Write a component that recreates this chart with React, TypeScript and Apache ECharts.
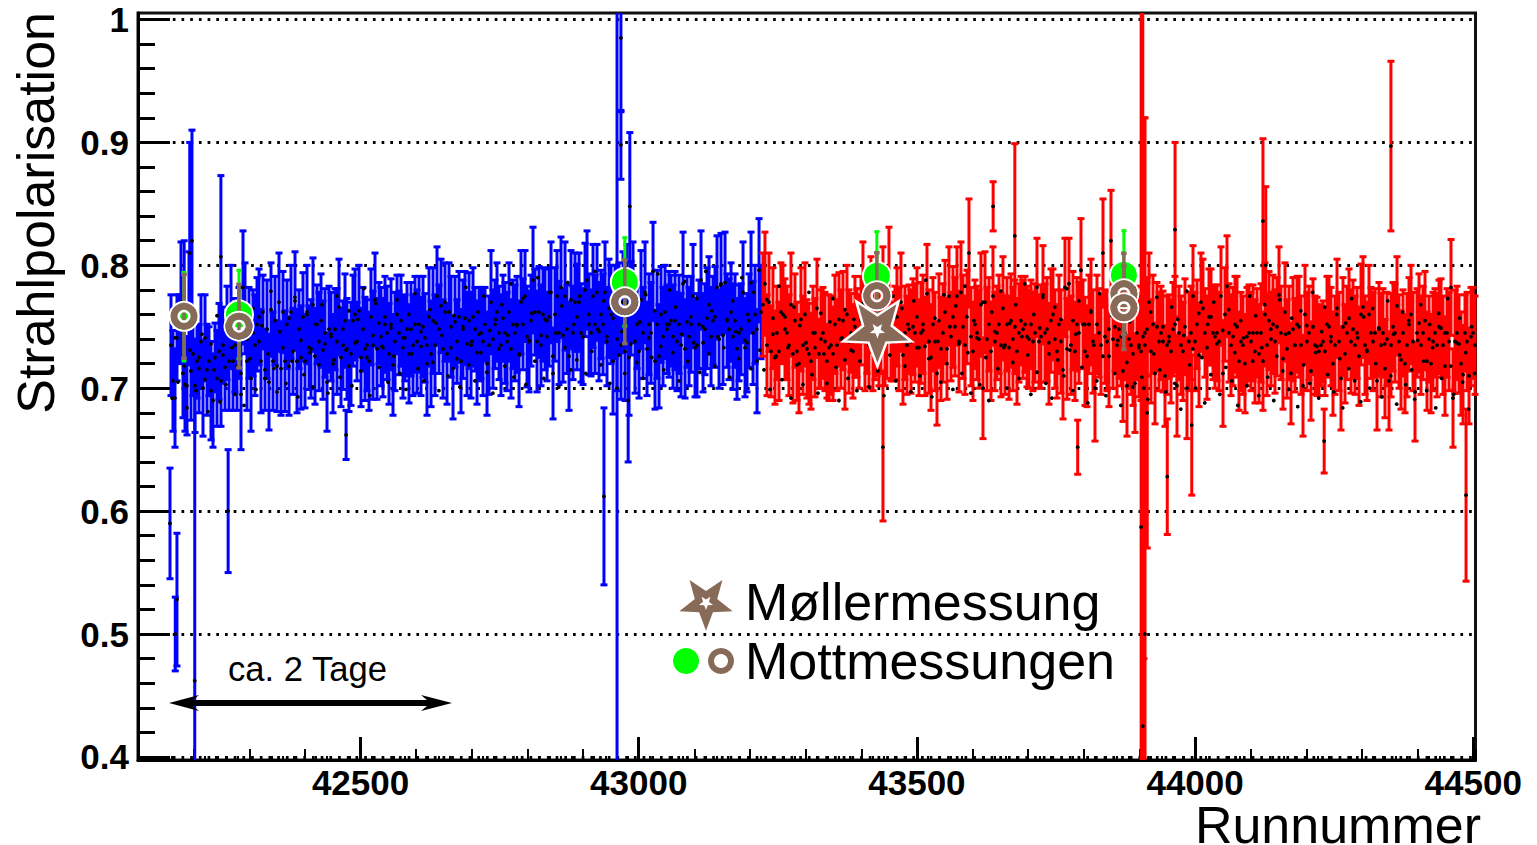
import React, { useEffect, useRef } from "react";
import * as echarts from "echarts";

// run spacing of the regular blue / red measurements
const blueFirstRun = 42159.3;
const redFirstRun = 43223.3;
const runStep = 3.595;
const extraStep = 5.39;

const blueVal = [
.735,.706,.692,.741,.748,.770,.712,.703,.702,.765,
.714,.728,.702,.722,.716,.738,.700,.741,.715,.722,
.698,.690,.725,.708,.730,.706,.735,.717,.745,.722,
.758,.722,.735,.718,.745,.695,.782,.765,.722,.745,
.708,.745,.735,.752,.758,.722,.762,.715,.748,.705,
.764,.722,.755,.718,.770,.716,.762,.722,.752,.718,
.762,.730,.771,.722,.748,.725,.758,.722,.760,.733,
.732,.768,.726,.752,.738,.755,.731,.745,.705,.748,
.742,.720,.748,.738,.766,.725,.735,.755,.732,.718,
.728,.755,.760,.738,.763,.725,.748,.732,.735,.722,
.758,.735,.772,.732,.753,.742,.733,.752,.745,.728,
.752,.719,.738,.760,.745,.755,.733,.741,.748,.728,
.748,.735,.752,.738,.752,.734,.750,.741,.720,.758,
.728,.755,.735,.775,.748,.767,.732,.762,.728,.762,
.750,.716,.754,.738,.758,.722,.748,.757,.736,.755,
.735,.758,.748,.729,.744,.745,.738,.752,.720,.735,
.770,.740,.752,.762,.745,.735,.757,.745,.738,.762,
.732,.752,.745,.752,.728,.770,.752,.775,.742,.738,
.755,.788,.762,.738,.762,.743,.760,.756,.742,.758,
.778,.712,.760,.775,.745,.782,.743,.775,.748,.726,
.772,.745,.770,.758,.770,.745,.742,.780,.788,.752,
.745,.775,.752,.778,.746,.760,.752,.778,.742,.765,
.760,.722,.762,.740,.765,.735,.770,.730,.775,.725,
.765,.778,.738,.752,.730,.772,.745,.778,.732,.752,
.745,.795,.722,.752,.726,.760,.742,.762,.748,.752,
.755,.742,.755,.738,.752,.735,.785,.732,.754,.742,
.752,.775,.733,.735,.752,.788,.737,.748,.757,.768,
.742,.755,.758,.782,.740,.785,.743,.786,.755,.748,
.762,.742,.755,.732,.745,.748,.778,.733,.737,.755,
.786,.745,.760,.722,.796,.762,
];
const blueErr = [
.041,.041,.040,.035,.028,.049,.036,.038,.040,.046,
.040,.034,.038,.030,.036,.038,.039,.035,.037,.028,
.040,.038,.028,.039,.039,.037,.031,.035,.038,.040,
.042,.040,.038,.036,.037,.045,.046,.037,.040,.037,
.043,.035,.041,.038,.039,.042,.030,.033,.040,.039,
.038,.040,.036,.037,.040,.038,.033,.041,.036,.040,
.038,.035,.040,.042,.032,.042,.036,.038,.040,.034,
.040,.038,.039,.032,.040,.038,.040,.036,.040,.035,
.036,.040,.033,.043,.039,.040,.036,.038,.041,.037,
.042,.037,.037,.032,.037,.040,.034,.042,.037,.040,
.039,.044,.038,.041,.033,.040,.040,.039,.038,.041,
.037,.041,.040,.032,.034,.037,.041,.035,.038,.040,
.038,.041,.039,.042,.039,.040,.041,.036,.042,.040,
.043,.043,.041,.040,.036,.038,.040,.040,.041,.040,
.041,.041,.037,.034,.037,.042,.040,.038,.042,.039,
.043,.040,.034,.042,.038,.037,.044,.030,.042,.040,
.042,.040,.036,.040,.038,.041,.035,.041,.040,.040,
.040,.036,.039,.039,.043,.042,.037,.037,.041,.041,
.037,.043,.035,.041,.037,.041,.038,.041,.036,.040,
.041,.037,.038,.037,.042,.041,.038,.044,.036,.044,
.040,.038,.040,.043,.040,.040,.039,.038,.040,.041,
.035,.042,.040,.039,.040,.036,.041,.041,.040,.040,
.040,.043,.038,.042,.037,.044,.041,.040,.042,.047,
.038,.041,.042,.036,.038,.040,.037,.041,.038,.041,
.041,.040,.039,.044,.042,.039,.040,.038,.036,.043,
.037,.042,.040,.040,.040,.042,.042,.040,.037,.040,
.039,.042,.040,.042,.036,.040,.040,.037,.041,.039,
.040,.036,.041,.042,.040,.041,.040,.041,.038,.041,
.040,.043,.038,.041,.039,.037,.041,.040,.040,.038,
.041,.042,.040,.042,.042,.038,
];
// further blue measurements, visible as dots inside the band
const blueExtra = [
.692,.741,.705,.763,.718,.684,.731,.752,.698,.725,
.744,.707,.681,.736,.715,.759,.689,.727,.703,.748,
.733,.695,.771,.712,.686,.740,.724,.765,.699,.738,
.751,.708,.728,.779,.716,.697,.746,.733,.704,.757,
.722,.774,.693,.739,.711,.762,.729,.701,.752,.719,
.768,.736,.696,.744,.723,.775,.709,.748,.731,.763,
.702,.737,.756,.714,.781,.725,.694,.743,.769,.717,
.734,.758,.705,.749,.726,.772,.712,.741,.699,.760,
.728,.777,.716,.746,.706,.735,.764,.721,.753,.698,
.743,.770,.710,.733,.759,.724,.701,.750,.782,.719,
.738,.706,.762,.729,.775,.713,.747,.696,.756,.732,
.768,.718,.743,.785,.709,.751,.727,.773,.703,.739,
.761,.722,.790,.735,.708,.755,.778,.726,.745,.701,
.767,.733,.786,.715,.752,.723,.775,.742,.712,.760,
.730,.795,.748,.719,.771,.738,.704,.757,.783,.727,
.746,.712,.768,.736,.789,.721,.754,.708,.776,.741,
.725,.763,.793,.734,.715,.752,.780,.729,.766,.706,
.744,.787,.722,.758,.737,.773,.713,.750,.795,.728,
.763,.718,.742,.784,.733,.756,.709,.771,.746,.724,
.790,.739,.760,.716,.778,.748,.731,
];

const redVal = [
.768,.785,.735,.770,.730,.757,.725,.745,.730,.762,
.760,.748,.745,.735,.768,.728,.755,.730,.720,.756,
.735,.760,.732,.728,.722,.745,.733,.765,.728,.740,
.745,.738,.722,.733,.735,.728,.752,.735,.756,.740,
.755,.723,.760,.738,.745,.730,.750,.745,.738,.755,
.778,.738,.750,.735,.768,.740,.735,.745,.742,.750,
.775,.740,.750,.790,.742,.738,.745,.758,.740,.770,
.727,.745,.735,.748,.738,.750,.745,.758,.733,.745,
.752,.734,.777,.738,.725,.752,.738,.712,.755,.732,
.745,.762,.732,.775,.742,.758,.750,.775,.738,.778,
.750,.735,.758,.810,.742,.730,.752,.745,.740,.768,
.700,.770,.740,.752,.730,.775,.738,.745,.752,.735,
.765,.735,.752,.733,.755,.740,.750,.730,.745,.755,
.748,.752,.742,.740,.752,.738,.745,.782,.738,.742,
.776,.745,.748,.728,.755,.760,.740,.730,.752,.738,
.715,.782,.732,.785,.735,.755,.730,.752,.745,.796,
.752,.730,.726,.752,.762,.738,.700,.752,.745,.735,
.810,.742,.738,.726,.820,.740,.750,.735,.748,.742,
.714,.745,.702,.740,.735,.728,.704,.745,.735,.730,
.742,.735,.748,.770,.730,.752,.712,.750,.738,.745,
.738,.710,.735,.742,.730,.748,.752,.702,.745,.735,
.730,.750,.700,.738,.745,.775,.738,.752,.727,.770,
.765,.745,.733,.758,.758,.745,.742,.745,.738,.775,
.712,.760,.783,.745,.735,.742,.752,.750,.722,.738,
.735,.720,.742,.745,.738,.745,.730,.745,.728,.745,
.722,.760,.735,.755,.740,.752,.738,.750,.776,.745,
.724,.762,.732,.745,.712,.748,.735,.752,.750,.735,
.702,.760,.738,.745,.714,.750,.735,.734,.730,.735,
.738,.730,.752,.750,.742,.720,.735,.765,.738,.708,
.750,.728,.745,.757,.738,.748,.735,.745,.726,.760,
.766,.735,.730,.760,.745,.738,.745,.706,.748,.735,
.745,.716,.740,.706,.735,.750,.745,.767,.738,.723,
.745,.720,.735,.752,.760,.738,.697,.745,.753,.735,
.745,.755,.722,.740,.720,.738,.745,.735,.750,.749,
.735,.718,.745,.738,.782,.692,.738,.745,.736,.720,
.711,.745,.738,.710,.742,.745,.735,
];
const redErr = [
.042,.042,.041,.040,.037,.041,.038,.038,.040,.040,
.040,.041,.038,.041,.042,.040,.038,.040,.040,.042,
.040,.042,.040,.041,.039,.038,.040,.040,.028,.040,
.037,.040,.030,.043,.040,.038,.040,.037,.038,.040,
.040,.040,.040,.042,.032,.038,.041,.036,.038,.036,
.041,.040,.038,.034,.039,.042,.028,.035,.040,.036,
.040,.038,.042,.041,.036,.032,.038,.040,.042,.040,
.040,.038,.040,.036,.042,.039,.040,.040,.039,.041,
.040,.040,.040,.042,.043,.038,.040,.042,.038,.042,
.040,.042,.041,.040,.036,.041,.040,.040,.041,.041,
.042,.040,.038,.044,.040,.040,.036,.038,.040,.042,
.041,.041,.042,.038,.040,.040,.040,.038,.040,.042,
.042,.040,.038,.042,.038,.042,.038,.043,.040,.036,
.040,.039,.041,.040,.036,.040,.040,.040,.038,.042,
.040,.040,.042,.041,.042,.037,.040,.038,.040,.042,
.040,.040,.041,.037,.040,.040,.040,.038,.041,.042,
.036,.044,.041,.040,.043,.042,.043,.040,.036,.040,
.044,.038,.040,.041,.041,.040,.036,.042,.040,.040,
.041,.038,.041,.040,.040,.042,.040,.038,.042,.040,
.040,.040,.038,.040,.042,.040,.041,.036,.040,.038,
.041,.041,.040,.034,.042,.038,.039,.041,.038,.040,
.040,.039,.041,.040,.038,.041,.040,.036,.042,.040,
.040,.036,.042,.039,.039,.038,.042,.039,.040,.040,
.043,.038,.041,.040,.041,.040,.039,.041,.040,.040,
.040,.040,.040,.039,.040,.039,.042,.036,.040,.040,
.040,.042,.041,.040,.038,.040,.042,.040,.039,.038,
.041,.040,.040,.038,.041,.042,.038,.039,.041,.040,
.041,.040,.040,.038,.040,.039,.040,.040,.036,.033,
.033,.036,.039,.041,.040,.042,.040,.040,.040,.042,
.040,.040,.038,.040,.042,.040,.040,.037,.040,.041,
.041,.040,.040,.040,.037,.040,.036,.040,.038,.042,
.036,.040,.038,.040,.042,.036,.040,.040,.038,.040,
.035,.040,.042,.038,.040,.040,.040,.036,.040,.040,
.038,.040,.040,.035,.040,.040,.036,.042,.038,.040,
.040,.040,.036,.040,.039,.040,.042,.038,.040,.042,
.040,.031,.040,.039,.040,.037,.040,
];
// further red measurements, visible as dots inside the band
const redExtra = [
.715,.772,.699,.744,.726,.783,.707,.758,.733,.692,
.766,.719,.751,.703,.737,.778,.711,.745,.696,.761,
.728,.704,.754,.773,.717,.690,.741,.764,.708,.731,
.756,.698,.722,.769,.739,.701,.748,.781,.714,.735,
.694,.759,.727,.775,.706,.743,.765,.718,.752,.697,
.771,.733,.710,.747,.788,.724,.693,.757,.738,.705,
.776,.720,.750,.699,.767,.736,.712,.783,.729,.696,
.755,.741,.703,.770,.725,.690,.762,.746,.716,.779,
.733,.700,.753,.721,.768,.708,.742,.785,.727,.695,
.760,.713,.749,.774,.704,.737,.692,.766,.723,.756,
.710,.781,.731,.698,.744,.771,.717,.752,.688,.763,
.735,.706,.777,.726,.694,.748,.759,.712,.739,.686,
.768,.721,.754,.701,.782,.733,.709,.745,.691,.762,
.728,.774,.715,.750,.697,.738,.766,.704,.756,.683,
.743,.779,.719,.732,.700,.761,.725,.688,.752,.711,
.770,.736,.695,.747,.717,.764,.706,.729,.686,.755,
.741,.702,.775,.722,.759,.694,.733,.768,.709,.748,
.690,.726,.772,.714,.744,.699,.757,.735,.685,.763,
.719,.751,.704,.778,.729,.692,.746,.766,.711,.738,
.697,.760,.724,.684,.753,.716,.773,.706,.741,.689,
.758,.731,.700,.765,.720,.749,.693,.736,.771,.710,
.744,.687,.727,.762,.703,.755,.715,.691,.739,.768,
.722,.698,.752,.733,.684,.761,.708,.745,.773,.718,
.695,.737,.757,.705,.729,.683,.750,.712,
];

// isolated points with large errors: run, value, error
const blueOutlierRuns = [42157.5,42167,42170,42197,42193,42202,42183,42249,42262,42474,42937.5,42961,42968,42968,42981,42984];
const blueOutlierVals = [.590,.500,.528,.820,.810,.462,.775,.807,.600,.662,.612,.700,.985,.898,.690,.848];
const blueOutlierErrs = [.045,.030,.054,.090,.090,.270,.045,.066,.050,.020,.072,.320,.060,.028,.050,.060];
const redOutlierRuns = [43439,43637,43676,43789,43903,43906,43908,43910,43914,43950,43964,43994,44122,44127,44232,44352,44487];
const redOutlierVals = [.652,.848,.824,.652,.587,.425,.700,.500,.680,.628,.829,.670,.836,.800,.657,.897,.613];
const redOutlierErrs = [.060,.020,.075,.022,.420,.590,.220,.420,.110,.047,.071,.057,.067,.064,.026,.069,.070];

// Mott and Møller measurements
const mottRuns = [42182.7,42281.5,42975,43428,43872];
const mottGreen = [.7582,.7600,.7865,.7914,.7922];
const mottGreenErr = [.036,.036,.036,.036,.036];
const mottBrownRuns = [42182.7,42281.5,42975,43428,43872,43872];
const mottBrown = [.7585,.7505,.7703,.7752,.7768,.7655];
const mottBrownErr = [.034,.034,.034,.035,.033,.034];
const mollerRun = 43429;
const mollerVal = .7464;

const xMajor = [42500,43000,43500,44000,44500];
const yMajor = [.4,.5,.6,.7,.8,.9,1];
const yMinor = [.42,.44,.46,.48,.52,.54,.56,.58,.62,.64,.66,.68,.72,.74,.76,.78,.82,.84,.86,.88,.92,.94,.96,.98];

const FONT = "'Liberation Sans', Arial, sans-serif";
const GREEN = "#00ff00";
const BROWN = "#876b58";
const Y_MIN = 0.3975;
const Y_MAX = 1.0053;
const X_MIN = 42100;
const X_MAX = 44504;

const STAR = "M0 100L24.7 34L95.1 30.9L39.9 -13L58.8 -80.9L0 -42L-58.8 -80.9L-39.9 -13L-95.1 30.9L-24.7 34Z";
const starPts: number[][] = [[0,100],[24.7,34],[95.1,30.9],[39.9,-13],[58.8,-80.9],[0,-42],[-58.8,-80.9],[-39.9,-13],[-95.1,30.9],[-24.7,34]];

const regular = (first: number, vals: number[], errs: number[]) =>
  vals.map((v, i) => [first + i * runStep, v, errs[i]]);
const listed = (runs: number[], vals: number[], errs: number[]) =>
  vals.map((v, i) => [runs[i], v, errs[i]]);
const extras = (first: number, vals: number[]) =>
  vals.map((v, i) => [first + 1.8 + i * extraStep, v]);

function errorBar(color: string, lw: number, capHalf: number) {
  return (_: any, api: any) => {
    const run = api.value(0), v = api.value(1), e = api.value(2);
    const hi = Math.min(v + e, Y_MAX), lo = Math.max(v - e, Y_MIN);
    const x = api.coord([run, v])[0];
    const yHi = api.coord([run, hi])[1], yLo = api.coord([run, lo])[1];
    const style = { stroke: color, lineWidth: lw, fill: "none" };
    const children: any[] = [{ type: "line", shape: { x1: x, y1: yHi, x2: x, y2: yLo }, style }];
    if (v + e < Y_MAX) children.push({ type: "line", shape: { x1: x - capHalf, y1: yHi, x2: x + capHalf, y2: yHi }, style });
    if (v - e > Y_MIN) children.push({ type: "line", shape: { x1: x - capHalf, y1: yLo, x2: x + capHalf, y2: yLo }, style });
    return { type: "group", children };
  };
}

function ringItem(_: any, api: any) {
  const p = api.coord([api.value(0), api.value(1)]);
  const cx = p[0], cy = p[1];
  return {
    type: "group",
    children: [
      { type: "ring", shape: { cx, cy, r: 15.5, r0: 13.5 }, style: { fill: "#fff" } },
      { type: "ring", shape: { cx, cy, r: 13.5, r0: 6.5 }, style: { fill: BROWN } },
      { type: "ring", shape: { cx, cy, r: 6.5, r0: 4 }, style: { fill: "#fff" } },
    ],
  };
}

const star = (cx: number, cy: number, R: number) => starPts.map((p) => [cx + (p[0] * R) / 100, cy + (p[1] * R) / 100]);

export default function App() {
  const ref = useRef<HTMLDivElement>(null);
  useEffect(() => {
    document.body.style.margin = "0";
    const chart = echarts.init(ref.current!, undefined, { renderer: "svg" });
    const blue = [...regular(blueFirstRun, blueVal, blueErr), ...listed(blueOutlierRuns, blueOutlierVals, blueOutlierErrs)];
    const red = [...regular(redFirstRun, redVal, redErr), ...listed(redOutlierRuns, redOutlierVals, redOutlierErrs)];
    const dots = [
      ...[...blue, ...red].filter((d) => d[1] >= Y_MIN && d[1] <= 1).map((d) => [d[0], d[1]]),
      ...extras(blueFirstRun, blueExtra),
      ...extras(redFirstRun, redExtra),
    ];
    const greens = listed(mottRuns, mottGreen, mottGreenErr);
    const browns = listed(mottBrownRuns, mottBrown, mottBrownErr);

    const xBase = { type: "value", min: X_MIN, max: X_MAX, position: "bottom", splitLine: { show: false } };
    const yBase = { type: "value", min: Y_MIN, max: Y_MAX, position: "left" };
    chart.setOption({
      animation: false,
      backgroundColor: "#fff",
      grid: { left: 138, top: 13, width: 1337.5, height: 747, outerBoundsMode: "none", containLabel: false, show: true, borderColor: "#111", borderWidth: 3, backgroundColor: "transparent" },
      xAxis: [
        {
          ...xBase,
          interval: 100,
          axisLine: { lineStyle: { color: "#000", width: 3 } },
          axisTick: { inside: true, length: 11, lineStyle: { color: "#000", width: 2 } },
          minorTick: { show: true, splitNumber: 5, length: 4, lineStyle: { color: "#000", width: 2 } },
          axisLabel: { customValues: xMajor, formatter: (v: number) => String(v), margin: 5, hideOverlap: false, fontFamily: FONT, fontWeight: "bold", fontSize: 35, color: "#000" },
        },
        {
          ...xBase,
          axisLine: { show: false },
          axisLabel: { show: false },
          axisTick: { inside: true, length: 23, customValues: xMajor, lineStyle: { color: "#000", width: 3 } },
        },
      ],
      yAxis: [
        {
          ...yBase,
          name: "Strahlpolarisation",
          nameLocation: "end",
          nameRotate: 90,
          nameGap: 1,
          nameTextStyle: { fontFamily: FONT, fontSize: 52, color: "#000", align: "right", verticalAlign: "bottom", padding: [0, 0, 76, 0] },
          axisLine: { lineStyle: { color: "#000", width: 3 } },
          axisTick: { inside: true, length: 32, customValues: yMajor, lineStyle: { color: "#000", width: 3 } },
          splitLine: { show: true, lineStyle: { color: "#000", width: 3, type: [2.7, 6] } },
          axisLabel: {
            customValues: yMajor,
            margin: 9,
            fontFamily: FONT,
            fontWeight: "bold",
            fontSize: 35,
            color: "#000",
            formatter: (v: number) => (v >= 0.999 ? "1" : v.toFixed(1)),
          },
        },
        {
          ...yBase,
          axisLine: { show: false },
          axisLabel: { show: false },
          splitLine: { show: false },
          axisTick: { inside: true, length: 17, customValues: yMinor, lineStyle: { color: "#000", width: 3 } },
        },
      ],
      series: [
        { type: "custom", z: 2, name: "Strahlpolarisation (blau)", data: blue, renderItem: errorBar("#0000ff", 3, 3.5), clip: false, silent: true },
        { type: "custom", z: 2, name: "Strahlpolarisation (rot)", data: red, renderItem: errorBar("#ff0000", 3, 3.5), clip: false, silent: true },
        { type: "scatter", z: 3, name: "Mittelwerte", data: dots, symbol: "circle", symbolSize: 3.8, itemStyle: { color: "#000", opacity: 1 }, silent: true },
        { type: "custom", z: 4, name: "Mott Fehler grün", data: greens, renderItem: errorBar(GREEN, 3, 2.5), silent: true },
        { type: "scatter", z: 5, name: "Mottmessung", data: greens.map((d) => [d[0], d[1]]), symbol: "circle", symbolSize: 28, itemStyle: { color: GREEN, borderColor: "#fff", borderWidth: 2, opacity: 1 }, silent: true },
        { type: "custom", z: 6, name: "Mott Fehler braun", data: browns, renderItem: errorBar(BROWN, 3.5, 2.8), silent: true },
        { type: "custom", z: 7, name: "Mottmessung Ring", data: browns, renderItem: ringItem, silent: true },
        { type: "scatter", z: 8, name: "Møllermessung", data: [[mollerRun, mollerVal]], symbol: "path://" + STAR, symbolSize: [68.5, 65], symbolOffset: [0, 2.6], itemStyle: { color: BROWN, borderColor: "#fff", borderWidth: 2.5, opacity: 1 }, silent: true },
        { type: "scatter", z: 9, name: "Møllermessung Kern", data: [[mollerRun, mollerVal]], symbol: "path://" + STAR, symbolSize: [15.2, 14.5], itemStyle: { color: "#fff", opacity: 1 }, silent: true },
      ],
      graphic: [
        { type: "polygon", z: 100, shape: { points: [[169,703],[199,695],[193,700],[427,700],[421,695],[452,703],[421,711],[427,706],[193,706],[199,711]] }, style: { fill: "#000" } },
        { type: "text", z: 100, x: 228, y: 669, style: { text: "ca. 2 Tage", font: `34.6px ${FONT}`, fill: "#000", verticalAlign: "middle" } },
        { type: "polygon", z: 100, shape: { points: star(706, 602.7, 28) }, style: { fill: BROWN } },
        { type: "polygon", z: 101, shape: { points: star(706, 602.7, 7.4) }, style: { fill: "#fff" } },
        { type: "circle", z: 100, shape: { cx: 686, cy: 661, r: 13 }, style: { fill: GREEN } },
        { type: "ring", z: 100, shape: { cx: 721, cy: 661, r: 13, r0: 7 }, style: { fill: BROWN } },
        { type: "text", z: 100, x: 745, y: 602, style: { text: "Møllermessung", font: `52px ${FONT}`, fill: "#000", verticalAlign: "middle" } },
        { type: "text", z: 100, x: 745, y: 661, style: { text: "Mottmessungen", font: `52px ${FONT}`, fill: "#000", verticalAlign: "middle" } },
        { type: "text", z: 100, x: 1481, y: 825, style: { text: "Runnummer", font: `52px ${FONT}`, lineHeight: 38, fill: "#000", align: "right", verticalAlign: "middle" } },
      ],
    });
    return () => chart.dispose();
  }, []);
  return <div ref={ref} style={{ position: "fixed", left: 0, top: 0, width: 1537, height: 845 }} />;
}
